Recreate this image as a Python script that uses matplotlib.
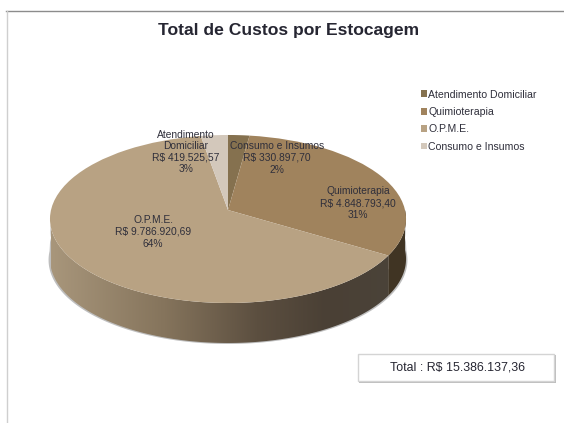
import numpy as np
import matplotlib
matplotlib.use('Agg')
import matplotlib.pyplot as plt
from matplotlib.colors import LinearSegmentedColormap
from matplotlib.patches import Polygon, Rectangle
from matplotlib.transforms import Transform

plt.rcParams['font.family'] = ['Liberation Sans', 'DejaVu Sans']

title = 'Total de Custos por Estocagem'
total_label = 'Total : R$ 15.386.137,36'

# slices clockwise from the top
slice_names = ['Consumo e Insumos', 'Quimioterapia', 'O.P.M.E.', 'Atendimento\nDomiciliar']
slice_values = [330897.70, 4848793.40, 9786920.69, 419525.57]
slice_money = ['R$ 330.897,70', 'R$ 4.848.793,40', 'R$ 9.786.920,69', 'R$ 419.525,57']
slice_pct = ['2%', '31%', '64%', '3%']
slice_colors = ['#85714f', '#a0835d', '#b8a283', '#d3c8bb']

# the legend in the picture pairs names and colours this way
legend_names = ['Atendimento Domiciliar', 'Quimioterapia', 'O.P.M.E.', 'Consumo e Insumos']

text_color = '#2f2f3b'
W, H = 564, 423
fig = plt.figure(figsize=(W / 100, H / 100), dpi=100)

# everything is placed in pixel coordinates
bg = fig.add_axes([0, 0, 1, 1])
bg.set_xlim(0, W)
bg.set_ylim(H, 0)
bg.axis('off')

bg.plot([6, W], [11, 11], color='#8c8c8c', lw=1)
bg.plot([6.5, 6.5], [11, H], color='#cfcfcf', lw=1)

cx, cy = 228, 210
scale_x, scale_y, persp = 177, 83.04, 0.107
depth = 40


class Tilt(Transform):
    # unit circle to the tilted pie, the near side gets bigger
    input_dims = 2
    output_dims = 2

    def transform_non_affine(self, values):
        values = np.asarray(values)
        d = 1 + persp * values[:, 1]
        return np.column_stack([cx + scale_x * values[:, 0] / d,
                                cy - scale_y * values[:, 1] / d])


tilt = Tilt()


def side_poly(t0, t1):
    t = np.linspace(t0, t1, 160)
    p = tilt.transform_non_affine(np.column_stack([np.cos(t), np.sin(t)]))
    x, y = p[:, 0], p[:, 1]
    return np.column_stack([np.r_[x, x[::-1]], np.r_[y, y[::-1] + depth]])


def shadow_poly():
    # thin grey edge under the wall only, starts below the rim
    t = np.linspace(np.pi, 2 * np.pi, 160)
    p = tilt.transform_non_affine(np.column_stack([np.cos(t), np.sin(t)]))
    x, y = p[:, 0], p[:, 1]
    grown = cx + (x - cx) * 1.008
    return np.column_stack([np.r_[x, grown[::-1]], np.r_[y + 14, y[::-1] + depth + 1]])


fracs = np.array(slice_values) / np.sum(slice_values)
edge = np.deg2rad(90 - 360 * fracs[:2].sum()) + 2 * np.pi

bg.add_patch(Polygon(shadow_poly(), color='#8a8a8a', lw=0, alpha=0.55, zorder=0.5))

side_cmap = LinearSegmentedColormap.from_list(
    'side', [(0, '#a8967b'), (0.33, '#85745c'), (0.6, '#5c4f40'), (0.8, '#4a4035'), (1, '#4b4339')])
grad = bg.imshow(np.linspace(0, 1, 256)[None, :], extent=(51, 395, 350, 210),
                 aspect='auto', cmap=side_cmap, zorder=1)
grad.set_clip_path(Polygon(side_poly(np.pi, edge), transform=bg.transData))
bg.set_xlim(0, W)
bg.set_ylim(H, 0)
bg.add_patch(Polygon(side_poly(edge, 2 * np.pi), color='#403423', lw=0, zorder=1))

# top of the pie
ax = fig.add_axes([0, 0, 1, 1], facecolor='none')
wedges, _ = ax.pie(slice_values, colors=slice_colors, startangle=90, counterclock=False,
                   radius=1, wedgeprops={'linewidth': 0})
ax.set_aspect('auto')
ax.set_xlim(0, W)
ax.set_ylim(H, 0)
ax.axis('off')
for w in wedges:
    w.set_transform(tilt + ax.transData)

# data labels on their own overlay so they sit above the pie
top = fig.add_axes([0, 0, 1, 1], facecolor='none')
top.set_xlim(0, W)
top.set_ylim(H, 0)
top.axis('off')

label_xy = [(277, 158), (358, 203), (153, 232), (186, 152)]
for name, money, pct, (x, y) in zip(slice_names, slice_money, slice_pct, label_xy):
    top.text(x, y, f'{name}\n{money}\n{pct}', ha='center', va='center', fontsize=7.4,
             color=text_color, linespacing=1.2)

top.text(289, 30, title, ha='center', va='center', fontsize=12.6, fontweight='bold', color='#262632')

# legend, handles are the slices themselves
top.legend(wedges, legend_names, loc='upper left', bbox_to_anchor=(421 / W, 1 - 89.5 / H),
           bbox_transform=fig.transFigure, frameon=False, fontsize=7.6, labelcolor=text_color,
           handlelength=0.55, handleheight=0.6, handletextpad=0.12, labelspacing=0.7,
           borderpad=0, borderaxespad=0)

# total box with its soft shadow
top.add_patch(Rectangle((359, 355), 197, 28, facecolor='#bdbdbd', edgecolor='none'))
top.add_patch(Rectangle((358, 354), 196, 27, facecolor='white', edgecolor='#d4d4d4', lw=1))
top.text(458, 367, total_label, ha='center', va='center', fontsize=8.9, color='#262632')

fig.savefig('out.png', dpi=100)
